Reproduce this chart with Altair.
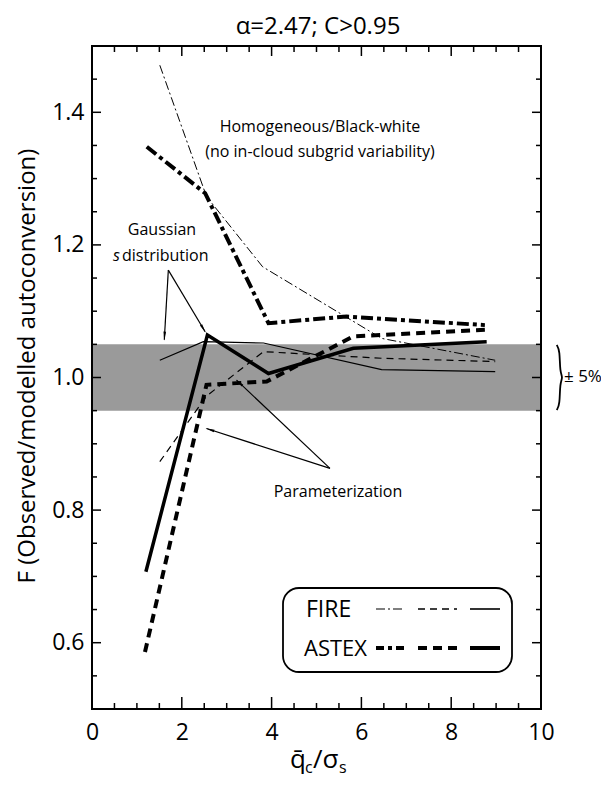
import math
import altair as alt
import pandas as pd

# ---------------- data ----------------
fire_homog_x = [1.51, 2.55, 3.80, 6.45, 8.98]
fire_homog_y = [1.471, 1.273, 1.167, 1.059, 1.026]
fire_param_x = [1.51, 2.55, 3.82, 6.45, 8.98]
fire_param_y = [0.873, 0.972, 1.039, 1.029, 1.024]
fire_gauss_x = [1.51, 2.48, 3.82, 6.45, 8.98]
fire_gauss_y = [1.026, 1.054, 1.052, 1.012, 1.009]

astex_homog_x = [1.22, 2.52, 3.93, 5.67, 8.75]
astex_homog_y = [1.348, 1.278, 1.082, 1.092, 1.079]
astex_param_x = [1.18, 2.55, 3.89, 5.82, 8.75]
astex_param_y = [0.586, 0.989, 0.994, 1.062, 1.072]
astex_gauss_x = [1.20, 2.57, 3.93, 5.82, 8.79]
astex_gauss_y = [0.707, 1.064, 1.006, 1.044, 1.054]

band_lo = 0.95
band_hi = 1.05

x_labels = [0, 2, 4, 6, 8, 10]
y_labels = [0.6, 0.8, 1.0, 1.2, 1.4]
x_minor = [0.5, 1, 1.5, 2.5, 3, 3.5, 4.5, 5, 5.5, 6.5, 7, 7.5, 8.5, 9, 9.5]
y_minor = [0.55, 0.65, 0.7, 0.75, 0.85, 0.9, 0.95, 1.05, 1.1, 1.15,
           1.25, 1.3, 1.35, 1.45]

# annotation arrows (start -> end, data units)
arr_x1 = [1.70, 1.70, 5.30, 5.30]
arr_y1 = [1.162, 1.162, 0.863, 0.863]
arr_x2 = [2.52, 1.61, 3.22, 2.55]
arr_y2 = [1.069, 1.057, 0.996, 0.923]

# brace for +-5 %
brace_x = [10.35, 10.42, 10.42, 10.49, 10.42, 10.42, 10.35]
brace_y = [1.049, 1.041, 1.008, 1.000, 0.992, 0.959, 0.951]

# ---------------- layout ----------------
W, H = 449, 663
FONT = "Open Sans"
xs = alt.Scale(domain=[0, 10], nice=False, zero=False)
ys = alt.Scale(domain=[0.5, 1.5], nice=False, zero=False)
x_axis = alt.Axis(values=x_labels, ticks=False, domain=False, grid=False,
                  labelFontSize=23, labelFont=FONT, labelColor="black",
                  labelPadding=12, labelFlush=False, title=None)
y_axis = alt.Axis(values=y_labels, format=".1f", ticks=False, domain=False,
                  grid=False, labelFontSize=23, labelFont=FONT,
                  labelColor="black", labelPadding=8, title=None)


def X(f="x"):
    return alt.X(f"{f}:Q", scale=xs, axis=x_axis)


def Y(f="y"):
    return alt.Y(f"{f}:Q", scale=ys, axis=y_axis)


one = pd.DataFrame({"k": [0]})
layers = []

# grey band
band_df = pd.DataFrame({"y": [band_hi], "y2": [band_lo]})
layers.append(alt.Chart(band_df).mark_rect(color="#9a9a9a").encode(
    x=alt.value(1), x2=alt.value(W - 1), y=Y(), y2="y2:Q"))


def series(xv, yv, width, dash=None):
    df = pd.DataFrame({"x": xv, "y": yv, "o": list(range(len(xv)))})
    kw = dict(color="black", strokeWidth=width, strokeJoin="miter")
    if dash:
        kw["strokeDash"] = dash
    return alt.Chart(df).mark_line(**kw).encode(x=X(), y=Y(), order="o:Q")


layers += [
    series(fire_homog_x, fire_homog_y, 1.0, [9, 3, 2, 3]),
    series(fire_param_x, fire_param_y, 1.2, [7, 5]),
    series(fire_gauss_x, fire_gauss_y, 1.2),
    series(astex_homog_x, astex_homog_y, 4.0, [12, 4, 4, 4]),
    series(astex_param_x, astex_param_y, 4.0, [9, 6]),
    series(astex_gauss_x, astex_gauss_y, 3.5),
]


# inward ticks
def xticks(vals, y0, y1):
    df = pd.DataFrame({"x": vals})
    return alt.Chart(df).mark_rule(color="black", strokeWidth=1.5).encode(
        x=X(), y=alt.value(y0), y2=alt.value(y1))


def yticks(vals, x0, x1):
    df = pd.DataFrame({"y": vals})
    return alt.Chart(df).mark_rule(color="black", strokeWidth=1.5).encode(
        y=Y(), x=alt.value(x0), x2=alt.value(x1))


layers += [
    xticks(x_labels, H, H - 12), xticks(x_minor, H, H - 6),
    xticks(x_labels, 0, 10), xticks(x_minor, 0, 6),
    yticks(y_labels, 0, 9), yticks(y_minor, 0, 5),
    yticks(y_labels, W, W - 9), yticks(y_minor, W, W - 5),
]

# arrows
arr_df = pd.DataFrame({"x": arr_x1, "y": arr_y1, "x2": arr_x2, "y2": arr_y2})
layers.append(alt.Chart(arr_df).mark_rule(color="black", strokeWidth=1.2).encode(
    x=X(), y=Y(), x2="x2:Q", y2="y2:Q"))

hx, hy, ha = [], [], []
r = 5.0
for x1, y1, x2, y2 in zip(arr_x1, arr_y1, arr_x2, arr_y2):
    sx = (x2 - x1) * W / 10.0
    sy = -(y2 - y1) * H
    L = math.hypot(sx, sy)
    ux, uy = sx / L, sy / L
    hx.append(x2 - ux * r / (W / 10.0))
    hy.append(y2 + uy * r / H)
    ha.append(math.degrees(math.atan2(ux, -uy)) % 360)
head_df = pd.DataFrame({"x": hx, "y": hy, "a": ha})
layers.append(alt.Chart(head_df).mark_point(
    shape="wedge", filled=True, size=110, color="black", opacity=1).encode(
    x=X(), y=Y(), angle=alt.Angle("a:Q", scale=None)))

# brace
brace_df = pd.DataFrame({"x": brace_x, "y": brace_y,
                         "o": list(range(len(brace_x)))})
layers.append(alt.Chart(brace_df).mark_line(
    color="black", strokeWidth=1.8, interpolate="basis").encode(
    x=X(), y=Y(), order="o:Q"))


def txt(s, x, y, size=16, align="center", baseline="middle", **kw):
    return alt.Chart(one).mark_text(
        text=s, fontSize=size, font=FONT, align=align, baseline=baseline,
        color="black", **kw).encode(x=alt.value(x), y=alt.value(y))


# legend box
layers.append(alt.Chart(one).mark_rect(
    fill="white", stroke="black", strokeWidth=1.8, cornerRadius=16).encode(
    x=alt.value(191), x2=alt.value(420), y=alt.value(542), y2=alt.value(626)))
layers.append(txt("FIRE", 214, 564, 23, align="left"))
layers.append(txt("ASTEX", 212, 603, 22, align="left"))


def legline(x0, x1, y, width, dash=None):
    kw = dict(color="black", strokeWidth=width)
    if dash:
        kw["strokeDash"] = dash
    return alt.Chart(one).mark_rule(**kw).encode(
        x=alt.value(x0), x2=alt.value(x1), y=alt.value(y))


layers += [
    legline(284, 312, 563, 1.2, [9, 3, 2, 3]),
    legline(326, 365, 563, 1.4, [7, 5]),
    legline(378, 408, 563, 1.6),
    legline(284, 312, 602, 4.0, [8, 4, 4, 4]),
    legline(326, 365, 602, 4.0, [9, 6]),
    legline(378, 408, 602, 4.0),
]

# annotation texts
layers += [
    txt("Homogeneous/Black-white", 228, 81),
    txt("(no in-cloud subgrid variability)", 228, 106),
    txt("Gaussian", 70, 184),
    txt("s", 21, 210, 16, align="left", fontStyle="italic"),
    txt("distribution", 30, 210, 16, align="left"),
    txt("Parameterization", 246, 446),
    txt("\u00b1 5%", 472, 331, 17, align="left"),
    # title and axis titles
    txt("\u03b1=2.47; C>0.95", 226, -19, 24),
    txt("F (Observed/modelled autoconversion)", -64, 320, 24, angle=270),
    txt("q\u0304", 198, 722, 26, align="left", baseline="alphabetic"),
    txt("c", 213, 727, 16, align="left", baseline="alphabetic"),
    txt("/\u03c3", 221, 722, 26, align="left", baseline="alphabetic"),
    txt("s", 247, 727, 16, align="left", baseline="alphabetic"),
]

chart = alt.layer(*layers).properties(
    width=W, height=H,
    autosize=alt.AutoSizeParams(type="none"),
    padding={"left": 84, "top": 38, "right": 60, "bottom": 70},
).configure_view(stroke="black", strokeWidth=2)

chart.save("out.html", embed_options={"renderer": "svg", "actions": False})
